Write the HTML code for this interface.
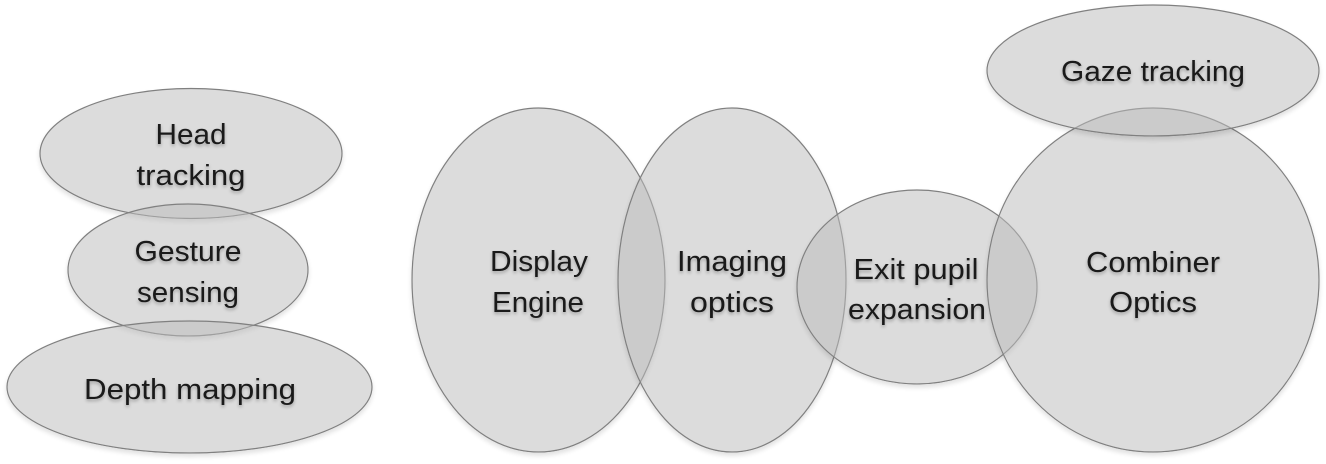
<!DOCTYPE html>
<html>
<head>
<meta charset="utf-8">
<style>
html,body{margin:0;padding:0;background:#fff;width:1326px;height:464px;overflow:hidden}
svg{display:block}
text{font-family:"Liberation Sans",sans-serif;font-size:29px;fill:#1a1a1a;text-anchor:middle;filter:url(#ts)}
ellipse{fill:rgb(187,187,187);fill-opacity:.515;stroke:#808080;stroke-width:1.2;filter:url(#es)}
</style>
</head>
<body>
<svg width="1326" height="464" viewBox="0 0 1326 464" xmlns="http://www.w3.org/2000/svg">
<defs>
<filter id="ts" color-interpolation-filters="sRGB" x="-10%" y="-30%" width="120%" height="170%"><feDropShadow dx="0" dy="2" stdDeviation="1.5" flood-color="#000" flood-opacity=".28"/></filter>
<filter id="es" color-interpolation-filters="sRGB" x="-5%" y="-5%" width="110%" height="115%">
<feComponentTransfer in="SourceAlpha" result="solid"><feFuncA type="linear" slope="4"/></feComponentTransfer>
<feGaussianBlur in="solid" stdDeviation="2.5" result="b"/>
<feOffset in="b" dy="3" result="o"/>
<feComponentTransfer in="o" result="a"><feFuncA type="linear" slope=".12"/></feComponentTransfer>
<feFlood flood-color="#000" flood-opacity="1" result="k"/>
<feComposite in="k" in2="a" operator="in" result="s"/>
<feComposite in="s" in2="solid" operator="out" result="outer"/>
<feMerge><feMergeNode in="outer"/><feMergeNode in="SourceGraphic"/></feMerge>
</filter>
</defs>
<ellipse cx="191" cy="153.500" rx="151" ry="65"/>
<ellipse cx="188" cy="270" rx="120" ry="66"/>
<ellipse cx="189.500" cy="387" rx="182.500" ry="66"/>
<ellipse cx="538.500" cy="280" rx="126.500" ry="172"/>
<ellipse cx="732" cy="280" rx="114" ry="172"/>
<ellipse cx="917" cy="287" rx="120" ry="97"/>
<ellipse cx="1153" cy="280" rx="166" ry="172"/>
<ellipse cx="1153" cy="70.500" rx="166" ry="65.500"/>
<text x="191" y="144" textLength="71" lengthAdjust="spacingAndGlyphs">Head</text>
<text x="191" y="185" textLength="109" lengthAdjust="spacingAndGlyphs">tracking</text>
<text x="188" y="261" textLength="107" lengthAdjust="spacingAndGlyphs">Gesture</text>
<text x="188" y="302" textLength="102" lengthAdjust="spacingAndGlyphs">sensing</text>
<text x="190" y="399" textLength="212" lengthAdjust="spacingAndGlyphs">Depth mapping</text>
<text x="539" y="271" textLength="98" lengthAdjust="spacingAndGlyphs">Display</text>
<text x="538" y="312" textLength="92" lengthAdjust="spacingAndGlyphs">Engine</text>
<text x="732" y="271" textLength="110" lengthAdjust="spacingAndGlyphs">Imaging</text>
<text x="732" y="312" textLength="84" lengthAdjust="spacingAndGlyphs">optics</text>
<text x="916" y="279" textLength="125" lengthAdjust="spacingAndGlyphs">Exit pupil</text>
<text x="917" y="319" textLength="138" lengthAdjust="spacingAndGlyphs">expansion</text>
<text x="1153" y="272" textLength="134" lengthAdjust="spacingAndGlyphs">Combiner</text>
<text x="1153" y="312" textLength="88" lengthAdjust="spacingAndGlyphs">Optics</text>
<text x="1153" y="81" textLength="184" lengthAdjust="spacingAndGlyphs">Gaze tracking</text>
</svg>
</body>
</html>
